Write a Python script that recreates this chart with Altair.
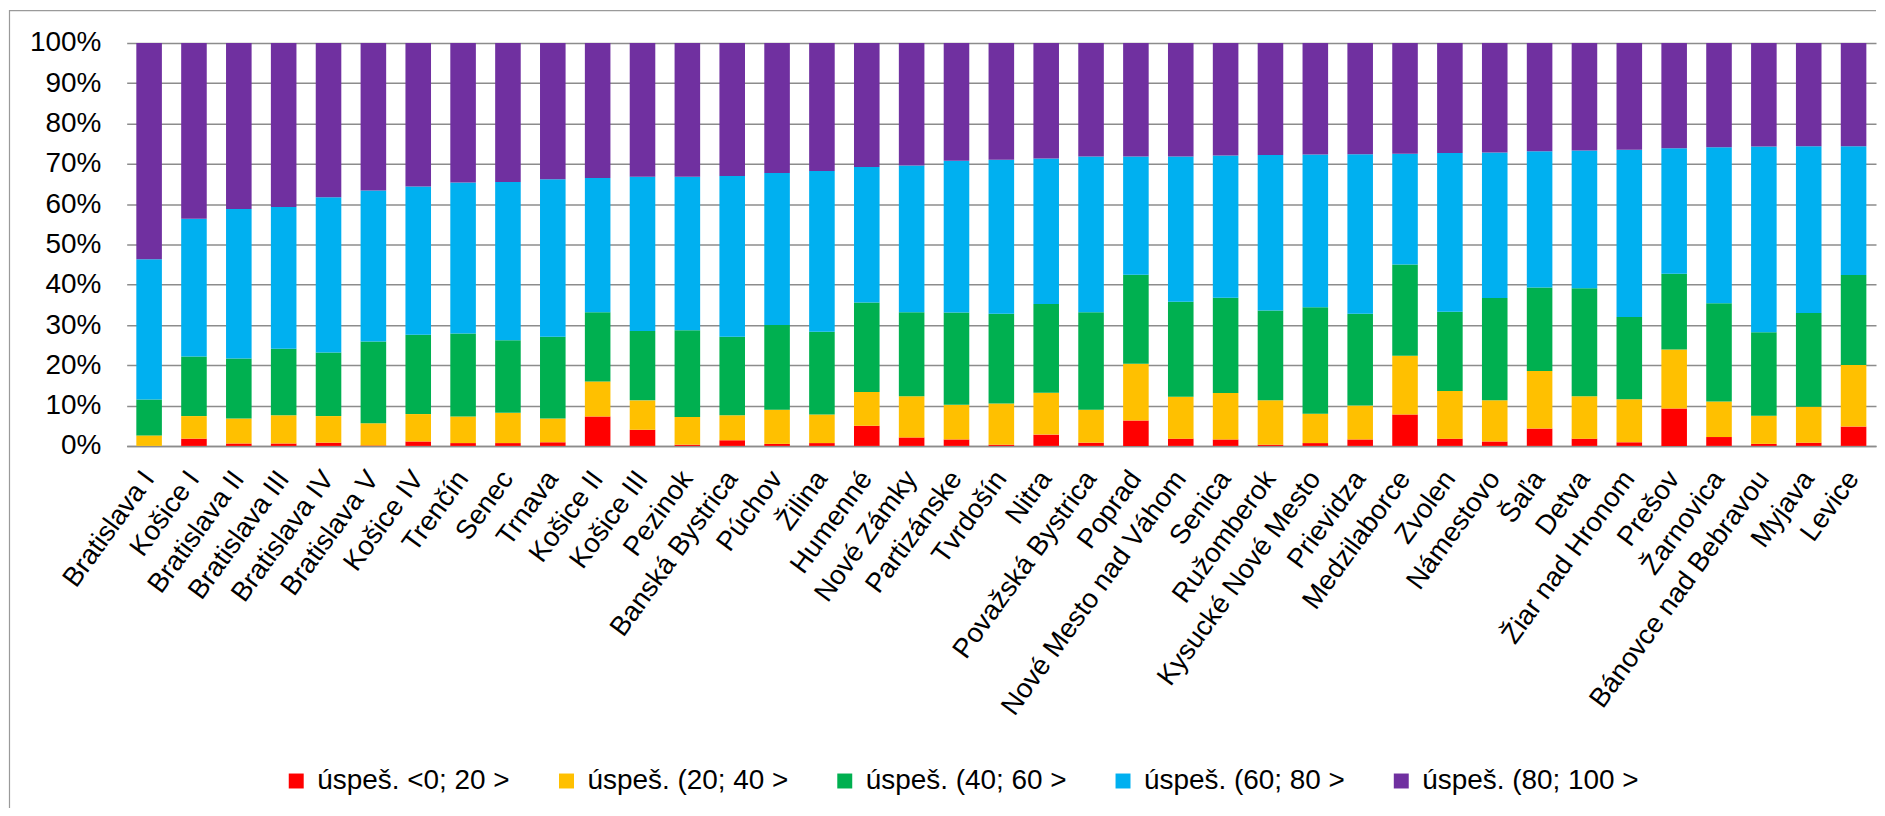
import altair as alt
import pandas as pd

districts = [
    "Bratislava I", "Košice I", "Bratislava II", "Bratislava III", "Bratislava IV",
    "Bratislava V", "Košice IV", "Trenčín", "Senec", "Trnava", "Košice II",
    "Košice III", "Pezinok", "Banská Bystrica", "Púchov", "Žilina", "Humenné",
    "Nové Zámky", "Partizánske", "Tvrdošín", "Nitra", "Považská Bystrica",
    "Poprad", "Nové Mesto nad Váhom", "Senica", "Ružomberok",
    "Kysucké Nové Mesto", "Prievidza", "Medzilaborce", "Zvolen", "Námestovo",
    "Šaľa", "Detva", "Žiar nad Hronom", "Prešov", "Žarnovica",
    "Bánovce nad Bebravou", "Myjava", "Levice",
]

series = [
    "úspeš. <0; 20 >",
    "úspeš. (20; 40 >",
    "úspeš. (40; 60 >",
    "úspeš. (60; 80 >",
    "úspeš. (80; 100 >",
]
colors = ["#FF0000", "#FFC000", "#00B050", "#00B0F0", "#7030A0"]

# share of each group in every district (percent)
red = [0.0, 1.8, 0.6, 0.6, 0.8, 0.1, 1.1, 0.7, 0.7, 0.9, 7.3, 4.0, 0.3, 1.4,
       0.5, 0.7, 5.0, 2.1, 1.6, 0.3, 2.8, 0.8, 6.3, 1.8, 1.6, 0.3, 0.7, 1.6,
       7.8, 1.8, 1.1, 4.3, 1.8, 0.9, 9.3, 2.2, 0.5, 0.8, 4.8]
orange = [2.6, 5.6, 6.2, 7.0, 6.6, 5.5, 6.8, 6.6, 7.5, 5.9, 8.7, 7.3, 6.9, 6.2,
          8.5, 7.1, 8.4, 10.2, 8.6, 10.2, 10.4, 8.2, 14.1, 10.4, 11.5, 11.0,
          7.3, 8.4, 14.6, 11.8, 10.2, 14.3, 10.5, 10.7, 14.6, 8.8, 7.0, 8.9,
          15.3]
green = [8.9, 14.8, 14.9, 16.5, 15.8, 20.3, 19.7, 20.6, 18.0, 20.3, 17.2, 17.2,
         21.5, 19.5, 21.0, 20.5, 22.2, 20.9, 22.9, 22.3, 22.0, 24.2, 22.1,
         23.6, 23.7, 22.3, 26.4, 22.8, 22.6, 19.7, 25.4, 20.7, 26.8, 20.4,
         18.8, 24.4, 20.7, 23.3, 22.3]
blue = [34.8, 34.2, 37.1, 35.2, 38.5, 37.5, 36.8, 37.5, 39.3, 39.1, 33.3, 38.3,
        38.1, 39.9, 37.7, 39.9, 33.6, 36.4, 37.7, 38.2, 36.1, 38.6, 29.3, 36.0,
        35.3, 38.6, 37.9, 39.6, 27.5, 39.4, 36.1, 33.8, 34.2, 41.5, 31.2, 38.7,
        46.1, 41.4, 32.0]
purple = [53.7, 43.6, 41.2, 40.7, 38.3, 36.6, 35.6, 34.6, 34.5, 33.8, 33.5,
          33.2, 33.2, 33.0, 32.3, 31.8, 30.8, 30.4, 29.2, 29.0, 28.7, 28.2,
          28.2, 28.2, 27.9, 27.8, 27.7, 27.6, 27.5, 27.3, 27.2, 26.9, 26.7,
          26.5, 26.1, 25.9, 25.7, 25.6, 25.6]

y_ticks = [0, 0.1, 0.2, 0.3, 0.4, 0.5, 0.6, 0.7, 0.8, 0.9, 1.0]

rows = []
for i, d in enumerate(districts):
    for k, vals in enumerate([red, orange, green, blue, purple]):
        rows.append({"okres": d, "skupina": series[k], "k": k, "podiel": vals[i]})
df = pd.DataFrame(rows)

FONT = "Liberation Sans"
GRID = "#8c8c8c"

bars = alt.Chart(df).mark_bar().encode(
    x=alt.X(
        "okres:N",
        sort=districts,
        title=None,
        scale=alt.Scale(paddingInner=0.43, paddingOuter=0.215),
        axis=alt.Axis(
            labelAngle=-54,
            labelAlign="right",
            labelBaseline="middle",
            labelPadding=28,
            labelFontSize=27.5,
            labelFont=FONT,
            labelColor="#000000",
            labelLimit=500,
            labelOverlap=False,
            ticks=False,
            tickSize=0,
            domain=True,
            domainColor=GRID,
            domainWidth=1.5,
            grid=False,
        ),
    ),
    y=alt.Y(
        "podiel:Q",
        stack="normalize",
        title=None,
        scale=alt.Scale(domain=[0, 1], nice=False),
        axis=alt.Axis(
            values=y_ticks,
            format=".0%",
            labelFontSize=28,
            labelFont=FONT,
            labelColor="#000000",
            labelPadding=26,
            labelOverlap=False,
            ticks=False,
            tickSize=0,
            domain=False,
            grid=True,
            gridColor=GRID,
            gridWidth=1.5,
        ),
    ),
    color=alt.Color(
        "skupina:N",
        scale=alt.Scale(domain=series, range=colors),
        legend=alt.Legend(
            title=None,
            orient="none",
            direction="horizontal",
            columns=5,
            legendX=156,
            legendY=726,
            padding=0,
            symbolType="square",
            symbolSize=225,
            symbolStrokeWidth=0,
            labelFontSize=28,
            labelFont=FONT,
            labelColor="#000000",
            labelOffset=7,
            labelLimit=400,
            columnPadding=42,
        ),
    ),
    order=alt.Order("k:Q", sort="ascending"),
)

frame_data = alt.Data(values=[{"f": 1}])
frame_left = alt.Chart(frame_data).mark_rule(color="#9a9a9a", strokeWidth=1.2).encode(
    x=alt.value(-117.5), y=alt.value(-33), y2=alt.value(767)
)
frame_top = alt.Chart(frame_data).mark_rule(color="#9a9a9a", strokeWidth=1.2).encode(
    x=alt.value(-117.5), x2=alt.value(1754), y=alt.value(-32.5)
)

chart = alt.layer(bars, frame_left, frame_top).properties(
    width=1754,
    height=404,
    padding={"left": 0, "top": 0, "right": 0, "bottom": 0},
    background="white",
).configure_view(strokeWidth=0)

chart.save("out.html", embed_options={"renderer": "svg", "actions": False})
